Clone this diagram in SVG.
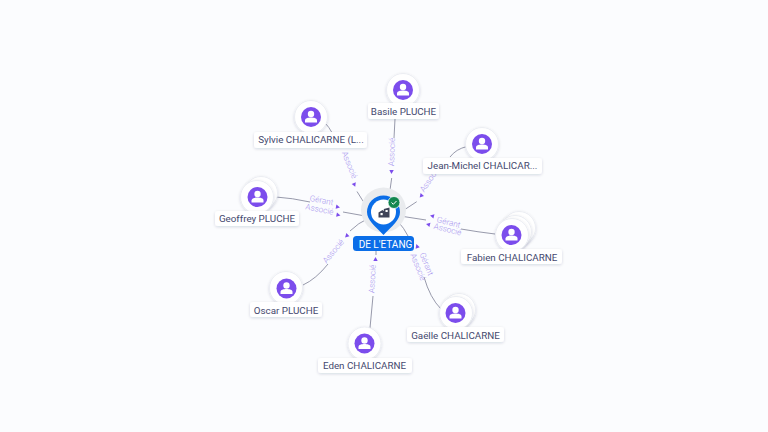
<svg xmlns="http://www.w3.org/2000/svg" width="768" height="432" viewBox="0 0 768 432">
<style>
text{font-family:"Roboto","Liberation Sans",sans-serif}
.lb{font-size:9.8px;fill:#44486e;text-anchor:middle}
.lbg{fill:#fff;filter:url(#s)}
.disc{fill:#fff;stroke:#e9ebf1;stroke-width:.8;filter:url(#s)}
.av{fill:#7c4dec}
.wh{fill:#fff}
.c{fill:none;stroke:#7d8096;stroke-width:.8}
.t{font-size:8.2px;fill:#a795ee;text-anchor:middle;font-weight:300}
.a{fill:#7c4dec}
</style>
<defs>
<filter id="s" x="-30%" y="-30%" width="160%" height="170%"><feDropShadow dx="0" dy="1" stdDeviation="1.4" flood-color="#1a2050" flood-opacity=".16"/></filter>
<g id="p"><circle r="10" class="av"/><circle cy="-3" r="3.2" class="wh"/><path class="wh" d="M-6 5.400V3.600C-6 1.400-3 .6 0 .6S6 1.400 6 3.600V5.400Z"/></g>
<path id="h" d="M-2 -2.200L2 0L-2 2.200Z"/>
</defs>
<rect width="768" height="432" fill="#fbfcfe"/>
<g id="connectors">
<path class="c" d="M391.700 178L390 190"/><path class="c" d="M395 119L394 138"/>
<path class="c" d="M326 124Q331 129 339 147"/><path class="c" d="M357 191.500Q362 200 368 208"/>
<path class="c" d="M276 197Q292 198 310 202"/><path class="c" d="M343 212L368 216.500"/>
<path class="c" d="M303 285Q316 279 328 264"/><path class="c" d="M350 231Q358 223 369 218"/>
<path class="c" d="M370 328L373 296"/><path class="c" d="M376 251L376 255"/>
<path class="c" d="M441 309Q430 298 424 277"/><path class="c" d="M408 236Q404 228 398 221.500"/>
<path class="c" d="M495 234Q478 232 461 229"/><path class="c" d="M426 220L400 216"/>
<path class="c" d="M467 146.500Q456 149 450 157"/><path class="c" d="M416.700 201.700L400 212.700"/>
</g>
<g id="edge-labels">
<text class="t" transform="translate(394.500 152) rotate(-88)">Associé</text>
<text class="t" transform="translate(347 166) rotate(68)">Associé</text>
<text class="t" transform="translate(321 203) rotate(11)">Gérant</text>
<text class="t" transform="translate(319 212) rotate(11)">Associé</text>
<text class="t" transform="translate(335.500 253) rotate(-50)">Associé</text>
<text class="t" transform="translate(375 279) rotate(-87)">Associé</text>
<text class="t" transform="translate(424 265) rotate(68)">Gérant</text>
<text class="t" transform="translate(415.500 268) rotate(68)">Associé</text>
<text class="t" transform="translate(448 225) rotate(14)">Gérant</text>
<text class="t" transform="translate(447 232) rotate(14)">Associé</text>
<text class="t" transform="translate(432 181) rotate(-55)">Associé</text>
<use href="#h" class="a" transform="translate(391.500 172) rotate(92)"/>
<use href="#h" class="a" transform="translate(354.500 185) rotate(68)"/>
<use href="#h" class="a" transform="translate(338 207) rotate(11)"/>
<use href="#h" class="a" transform="translate(338.500 215) rotate(11)"/>
<use href="#h" class="a" transform="translate(346.500 236) rotate(135)"/>
<use href="#h" class="a" transform="translate(375.500 259) rotate(-90)"/>
<use href="#h" class="a" transform="translate(417 246) rotate(-110)"/>
<use href="#h" class="a" transform="translate(432 216) rotate(194)"/>
<use href="#h" class="a" transform="translate(428 224.500) rotate(194)"/>
<use href="#h" class="a" transform="translate(421 196) rotate(130)"/>
</g>
<g id="n-basile"><circle class="disc" cx="403" cy="90" r="16.500"/><use href="#p" x="403" y="90"/><rect class="lbg" x="368" y="103" width="71" height="16" rx="3"/><text class="lb" x="403.500" y="115">Basile PLUCHE</text></g>
<g id="n-sylvie"><circle class="disc" cx="311" cy="117" r="16.500"/><use href="#p" x="311" y="117"/><rect class="lbg" x="254" y="132" width="113" height="16" rx="3"/><text class="lb" x="311" y="143">Sylvie CHALICARNE (L...</text></g>
<g id="n-jean"><circle class="disc" cx="482" cy="144" r="16.500"/><use href="#p" x="482" y="144"/><rect class="lbg" x="423" y="158" width="119" height="16" rx="3"/><text class="lb" x="482.500" y="169">Jean-Michel CHALICAR...</text></g>
<g id="n-geoffrey"><circle class="disc" cx="261" cy="193" r="16.500"/><circle class="disc" cx="257" cy="197" r="16.500"/><use href="#p" x="257.500" y="197"/><rect class="lbg" x="215" y="211" width="84" height="15" rx="3"/><text class="lb" x="257" y="222">Geoffrey PLUCHE</text></g>
<g id="n-fabien"><circle class="disc" cx="519" cy="228" r="16.500"/><circle class="disc" cx="515" cy="232" r="16.500"/><circle class="disc" cx="512" cy="235" r="16.500"/><use href="#p" x="511.500" y="235"/><rect class="lbg" x="461" y="249" width="101" height="15" rx="3"/><text class="lb" x="512" y="261">Fabien CHALICARNE</text></g>
<g id="n-gaelle"><circle class="disc" cx="459" cy="310" r="16.500"/><circle class="disc" cx="456" cy="313" r="16.500"/><use href="#p" x="455.500" y="313"/><rect class="lbg" x="407" y="327" width="97" height="15" rx="3"/><text class="lb" x="455.500" y="339">Gaëlle CHALICARNE</text></g>
<g id="n-oscar"><circle class="disc" cx="286" cy="288" r="16.500"/><use href="#p" x="286.500" y="288.500"/><rect class="lbg" x="250" y="302" width="72" height="15" rx="3"/><text class="lb" x="286" y="314">Oscar PLUCHE</text></g>
<g id="n-eden"><circle class="disc" cx="364.500" cy="343.500" r="16.500"/><use href="#p" x="364.500" y="343.500"/><rect class="lbg" x="318" y="358" width="94" height="15" rx="3"/><text class="lb" x="364.500" y="369">Eden CHALICARNE</text></g>
<g id="n-main">
<circle cx="383.500" cy="210" r="22.500" fill="#e9ebee"/>
<path d="M383.500 195.500a16.500 16.500 0 0 1 16.500 16.500c0 8-8 14-16.500 23c-8.500-9-16.500-15-16.500-23a16.500 16.500 0 0 1 16.500-16.500Z" fill="#0b6ee8"/>
<circle cx="383.500" cy="212" r="12.500" fill="#fff"/>
<path d="M378.500 217.500v-5l4-2.500 1.300 1v-2l5.700-1.500v10Z" fill="#3f4458"/>
<rect x="380.500" y="213" width="2.200" height="2.200" fill="#fff"/><rect x="385.500" y="210" width="2.200" height="2" fill="#fff"/>
<circle cx="394" cy="202.500" r="6" fill="#12874f" stroke="#fff" stroke-width=".8"/>
<path d="M391.500 202.500l1.800 1.800 3.200-3.300" fill="none" stroke="#fff" stroke-width="1"/>
<rect x="353" y="236" width="61" height="15" rx="3.500" fill="#0b6ee8"/>
<text x="385.500" y="248" font-size="10px" fill="#fff" text-anchor="middle">DE L'ETANG</text>
</g>
</svg>
